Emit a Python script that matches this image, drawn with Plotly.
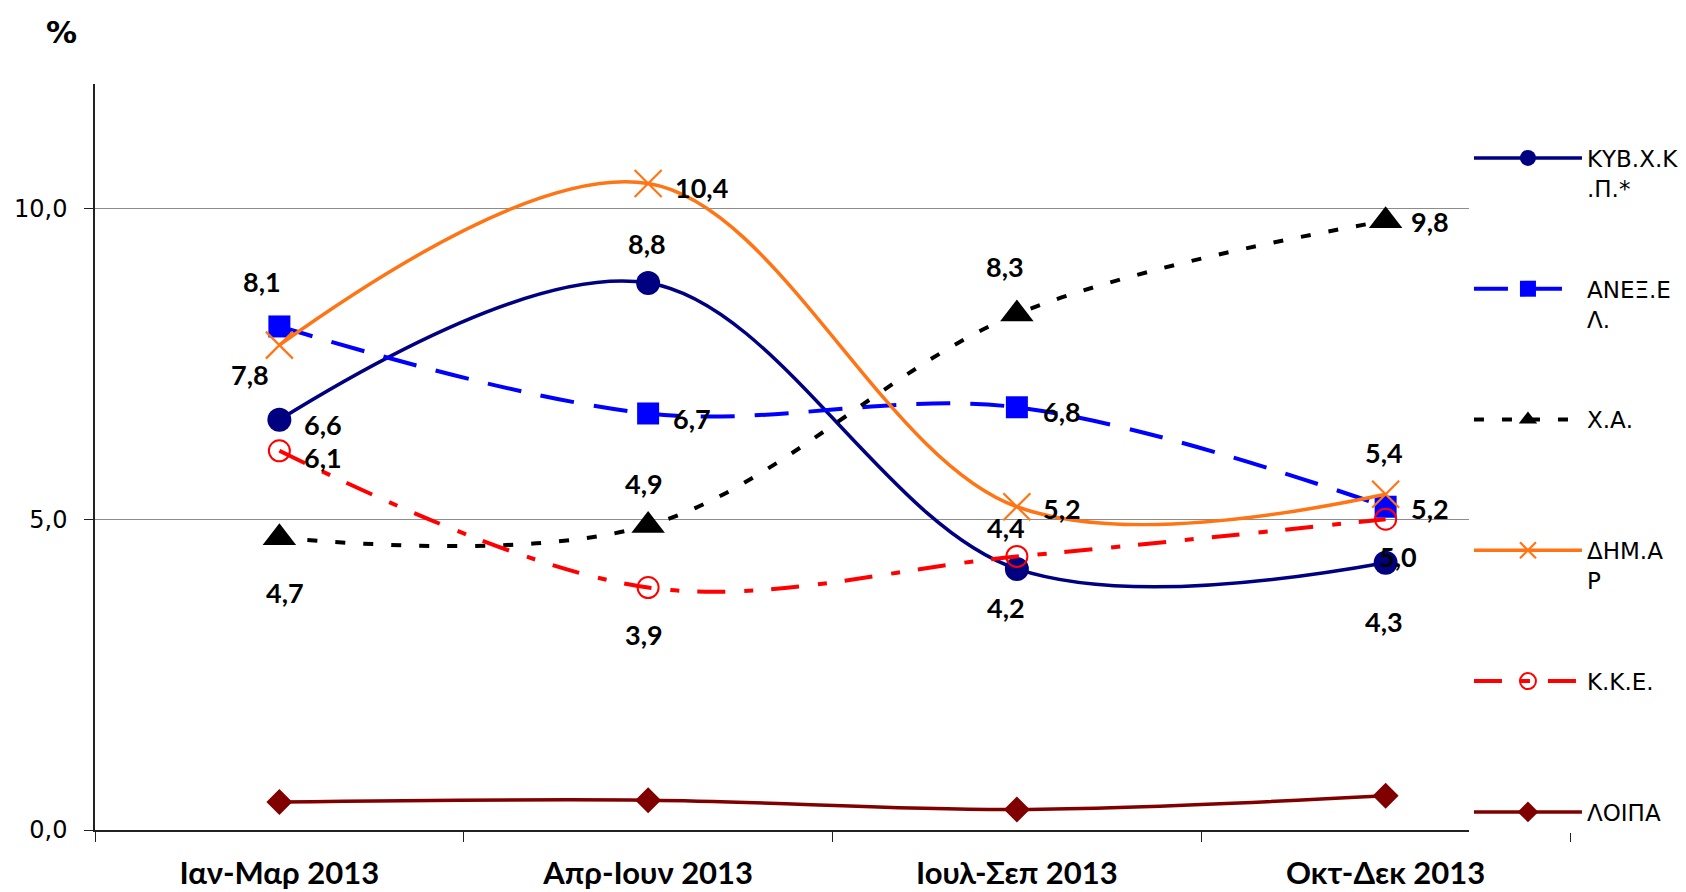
import plotly.graph_objects as go

categories = ["Ιαν-Μαρ 2013", "Απρ-Ιουν 2013", "Ιουλ-Σεπ 2013", "Οκτ-Δεκ 2013"]
series_names = ["ΚΥΒ.Χ.Κ<br>.Π.*", "ΑΝΕΞ.Ε<br>Λ.", "Χ.Α.<br> ", "ΔΗΜ.Α<br>Ρ", "Κ.Κ.Ε.<br> ", "ΛΟΙΠΑ"]
kyb = [6.6, 8.8, 4.2, 4.3]
anel = [8.1, 6.7, 6.8, 5.2]
xa = [4.7, 4.9, 8.3, 9.8]
dimar = [7.8, 10.4, 5.2, 5.4]
kke = [6.1, 3.9, 4.4, 5.0]
loipa = [0.45, 0.48, 0.33, 0.55]
y_ticks = [0, 5, 10]

values = [kyb, anel, xa, dimar, kke, loipa]
colors = ["#000080", "#0000FF", "#000000", "#FF7515", "#FF0000", "#800000"]
dashes = ["solid", "34px,20px", "10px,18px", "solid", "28px,19px,9px,18px", "solid"]
widths = [3.5, 4, 4, 3.5, 4, 3.5]
symbols = ["circle", "square", "triangle-up", "x-thin-open", "circle-open", "diamond"]
msizes = [24, 22, 29, 27, 21, 20]
mlw = [0, 0, 0, 2.2, 2, 0]
show_labels = [True, True, True, True, True, False]
# label pixel offsets (dx, dy in screen px; +dy downwards)
label_offsets = [
    [(44, 5), (-1, -39), (-11, 39), (-2, 59)],
    [(-17, -45), (44, 5), (45, 4), (44, 2)],
    [(6, 55), (-4, -42), (-12, -48), (44, 1)],
    [(-29, 29), (53, 4), (45, 2), (-2, -42)],
    [(44, 7), (-4, 47), (-11, -29), (12, 37)],
    [],
]

fig = go.Figure()
annotations = []
for i, vals in enumerate(values):
    fig.add_trace(go.Scatter(
        x=categories, y=vals, name=series_names[i], mode="lines+markers",
        legendgroup="g%d" % i,
        line=dict(color=colors[i], width=widths[i], dash=dashes[i], shape="spline", smoothing=1.0),
        marker=dict(symbol=symbols[i], size=msizes[i], color=colors[i],
                    line=dict(color=colors[i], width=mlw[i])),
        cliponaxis=False,
    ))
    if show_labels[i]:
        for j, v in enumerate(vals):
            dx, dy = label_offsets[i][j]
            annotations.append(dict(
                x=categories[j], y=v, xref="x", yref="y",
                text=("%.1f" % v).replace(".", ","), showarrow=False,
                xshift=dx, yshift=-dy, xanchor="center", yanchor="middle",
                font=dict(family="Lato, Noto Sans, sans-serif", size=27, color="black", weight="bold"),
            ))

annotations.append(dict(
    x=-0.023, y=1.0697, xref="paper", yref="paper", text="<b>%</b>", showarrow=False,
    xanchor="center", yanchor="middle",
    font=dict(family="DejaVu Sans, Verdana, sans-serif", size=31, color="black"),
))

fig.update_layout(
    width=1678, height=884,
    margin=dict(l=87, r=116, t=76, b=62, autoexpand=False),
    paper_bgcolor="white", plot_bgcolor="white",
    separators=",.",
    showlegend=True,
    legend=dict(
        x=0.9315, y=0.9297, xanchor="left", yanchor="top",
        bgcolor="white", borderwidth=0,
        font=dict(family="DejaVu Sans, Verdana, sans-serif", size=23, color="black"),
        tracegroupgap=68, valign="top", itemwidth=108, maxheight=880,
    ),
    annotations=annotations,
)
fig.update_xaxes(
    type="category", range=[-0.5, 3.5], automargin=False,
    showline=True, linecolor="#222222", linewidth=1.5,
    ticks="outside", ticklen=10, tickcolor="#222222", tickson="boundaries",
    showgrid=False, zeroline=False,
    tickfont=dict(family="Lato, Noto Sans, sans-serif", size=31, color="black", weight="bold"),
    ticklabelstandoff=15,
)
fig.update_yaxes(
    range=[0, 12], tickvals=y_ticks, tickformat=".1f", automargin=False,
    showline=True, linecolor="#222222", linewidth=1.5,
    ticks="outside", ticklen=9, tickcolor="#222222",
    showgrid=True, gridcolor="#8c8c8c", gridwidth=1.2, zeroline=False,
    tickfont=dict(family="DejaVu Sans, Verdana, sans-serif", size=24, color="black"),
    ticklabelstandoff=12,
)

fig.write_html("out.html")
